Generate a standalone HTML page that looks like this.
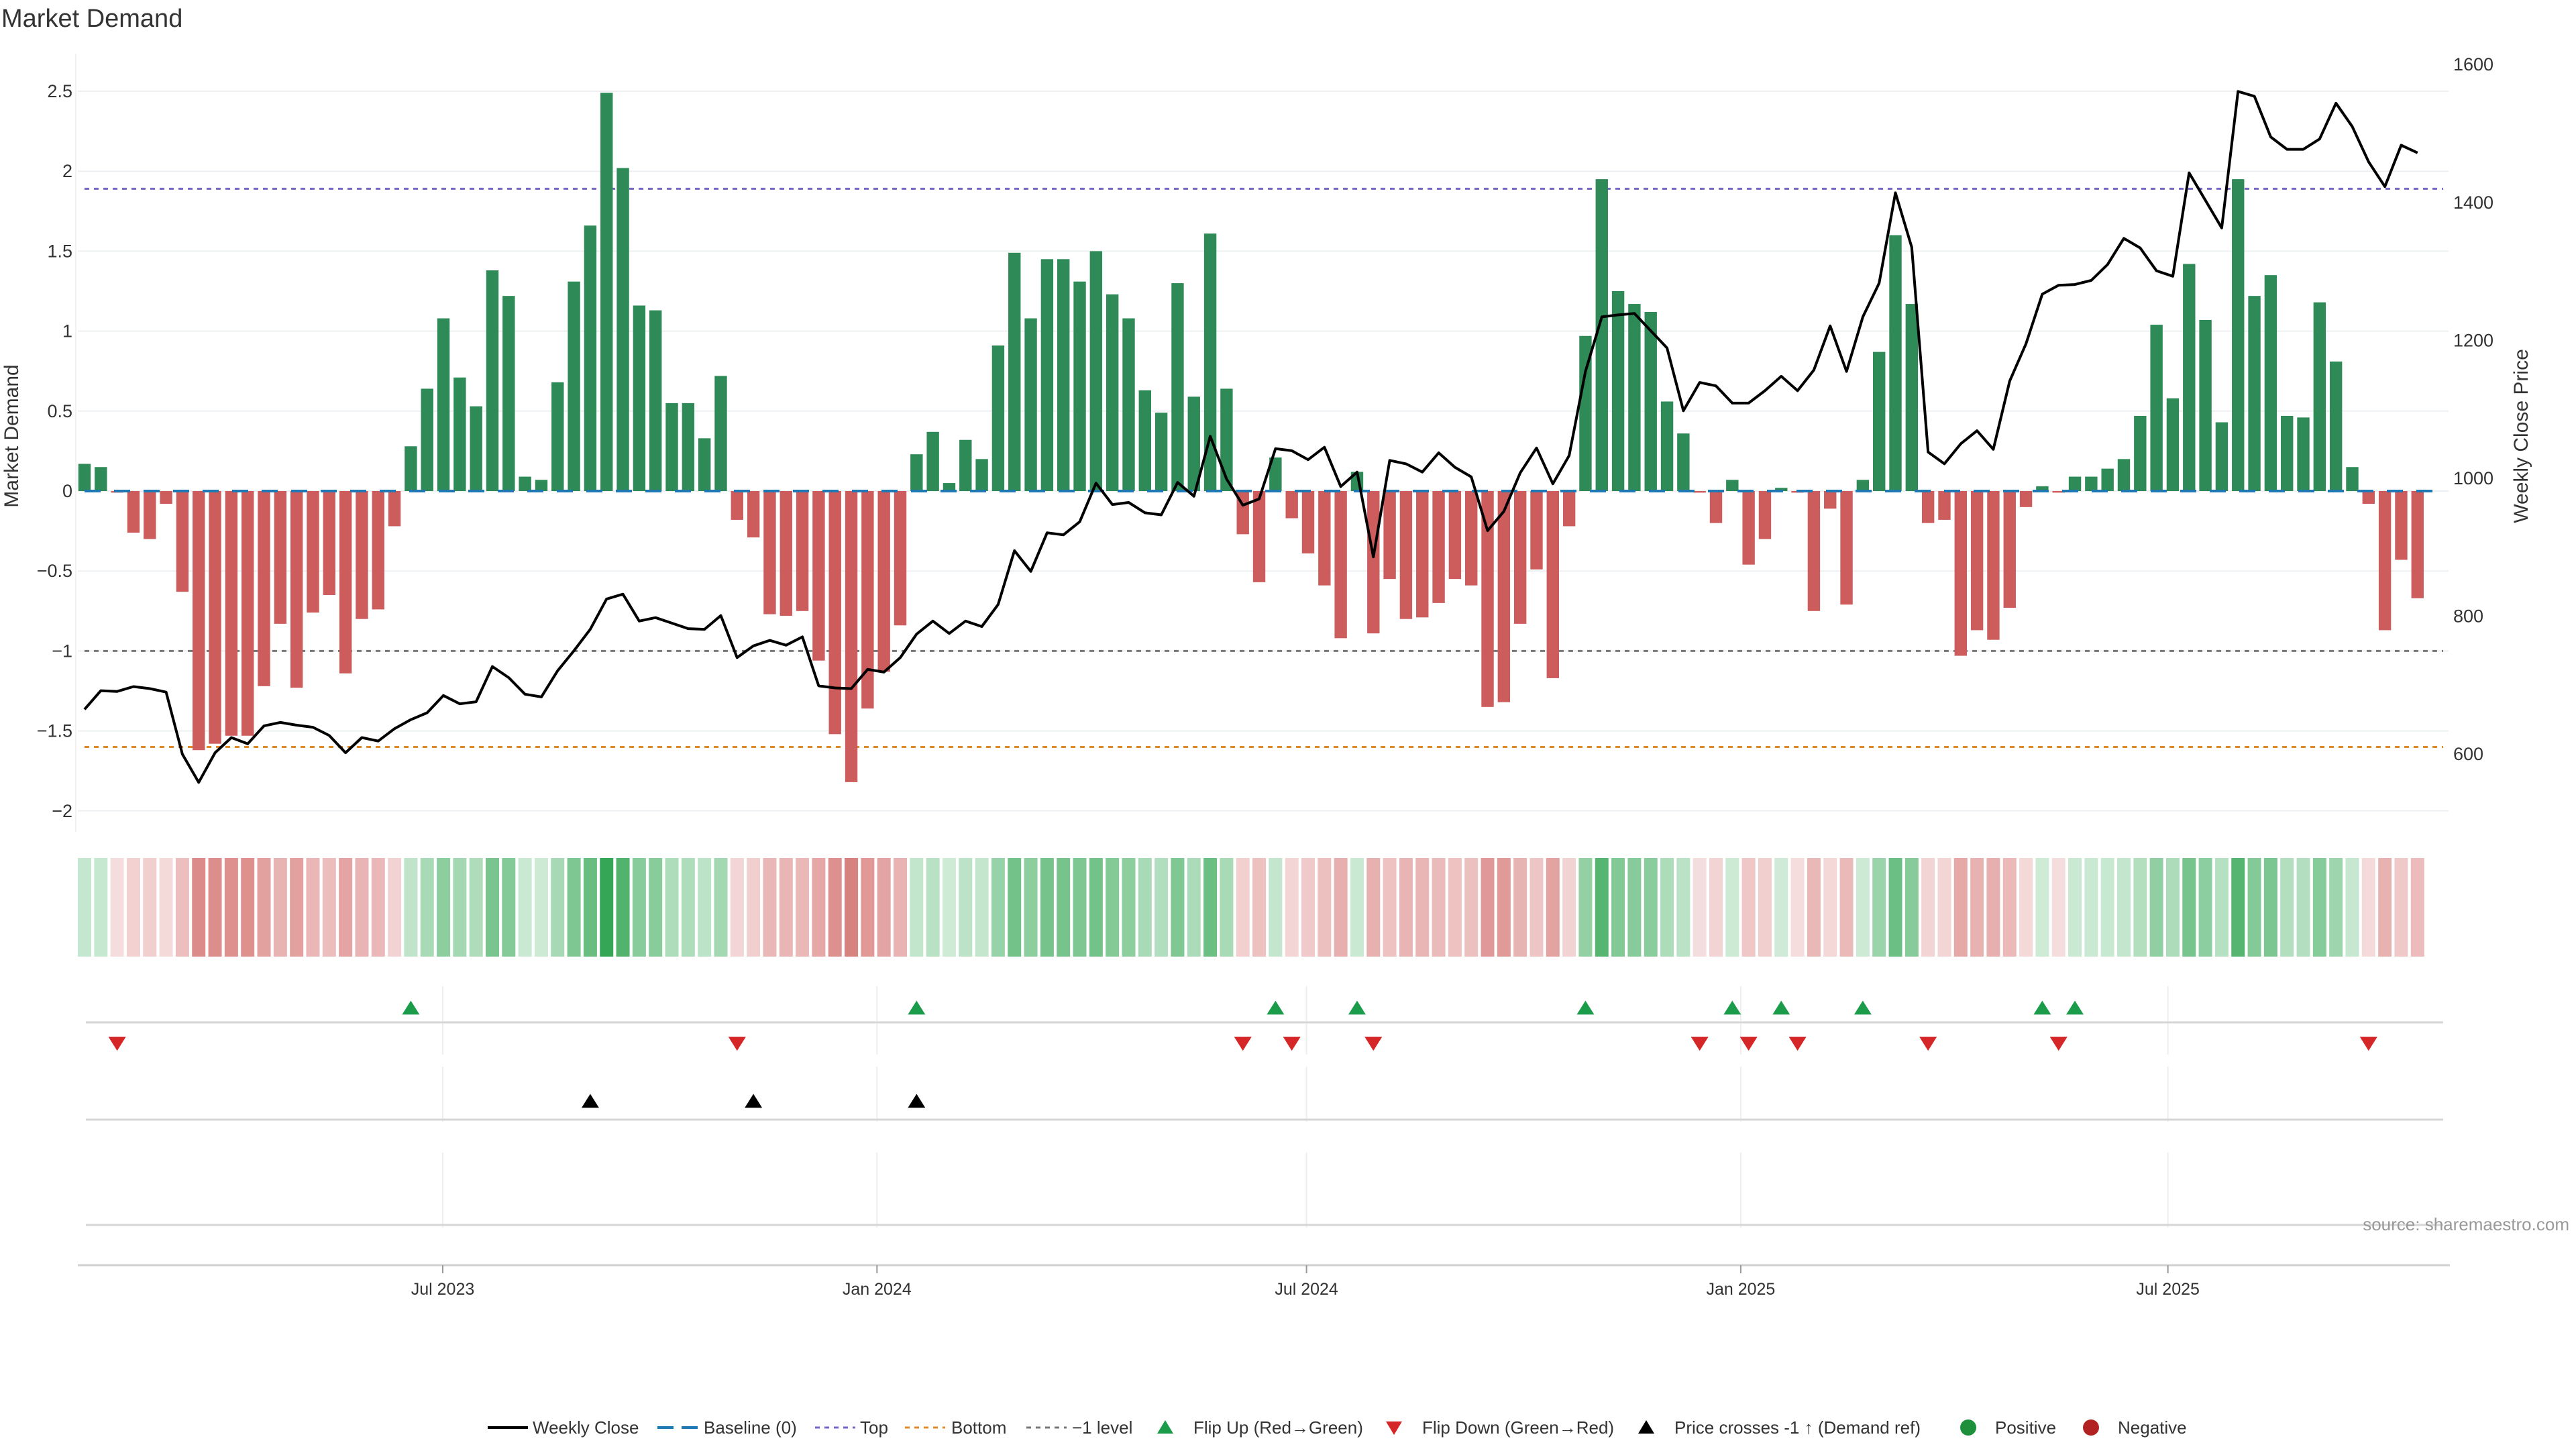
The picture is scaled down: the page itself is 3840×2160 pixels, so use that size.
<!DOCTYPE html>
<html><head><meta charset="utf-8"><style>
html,body{margin:0;padding:0;background:#fff;}
svg{display:block;font-family:"Liberation Sans","DejaVu Sans",sans-serif;}
</style></head><body>
<svg id="chart" width="3840" height="2160" viewBox="0 0 3840 2160" xmlns="http://www.w3.org/2000/svg">
<text x="2" y="40" font-size="38" fill="#333">Market Demand</text>
<g id="grid"></g><g id="refs"></g><g id="bars"></g><g id="line"></g><g id="heat"></g><g id="marks"></g><g id="axes"></g><g id="legend"></g>
<text x="3830" y="1834" font-size="26" fill="#999" text-anchor="end">source: sharemaestro.com</text>
</svg>
<script>
const demand = [0.17,0.15,-0.01,-0.26,-0.30,-0.08,-0.63,-1.62,-1.58,-1.53,-1.53,-1.22,-0.83,-1.23,-0.76,-0.65,-1.14,-0.80,-0.74,-0.22,0.28,0.64,1.08,0.71,0.53,1.38,1.22,0.09,0.07,0.68,1.31,1.66,2.49,2.02,1.16,1.13,
0.55,0.55,0.33,0.72,-0.18,-0.29,-0.77,-0.78,-0.75,-1.06,-1.52,-1.82,-1.36,-1.13,-0.84,0.23,0.37,0.05,0.32,0.20,0.91,1.49,1.08,1.45,1.45,1.31,1.50,1.23,1.08,0.63,0.49,1.30,0.59,1.61,0.64,-0.27,-0.57,
0.21,-0.17,-0.39,-0.59,-0.92,0.12,-0.89,-0.55,-0.80,-0.79,-0.70,-0.55,-0.59,-1.35,-1.32,-0.83,-0.49,-1.17,-0.22,0.97,1.95,1.25,1.17,1.12,0.56,0.36,-0.01,-0.20,0.07,-0.46,-0.30,0.02,-0.01,-0.75,-0.11,-0.71,
0.07,0.87,1.60,1.17,-0.20,-0.18,-1.03,-0.87,-0.93,-0.73,-0.10,0.03,-0.01,0.09,0.09,0.14,0.20,0.47,1.04,0.58,1.42,1.07,0.43,1.95,1.22,1.35,0.47,0.46,1.18,0.81,0.15,-0.08,-0.87,-0.43,-0.67];
const price = [665,692,691,698,695,690,600,559,602,624,615,641,646,642,639,627,602,624,619,637,650,660,685,673,676,727,711,687,683,721,750,781,825,832,793,798,
790,782,781,801,740,757,765,758,770,699,696,695,723,719,740,774,793,775,793,785,817,895,865,921,918,937,993,962,965,950,947,994,974,1061,999,961,970,
1043,1040,1027,1045,988,1009,886,1026,1021,1009,1037,1016,1002,924,952,1008,1044,992,1033,1155,1234,1237,1239,1214,1189,1098,1139,1134,1109,1109,1127,1148,1127,1157,1221,1155,
1234,1283,1414,1335,1038,1021,1050,1069,1042,1141,1195,1267,1280,1281,1287,1310,1348,1334,1301,1293,1443,1403,1363,1561,1554,1495,1477,1477,1492,1544,1510,1459,1423,1483,1472];
const crossIdx = [31,41,51];
const leftTicks = [2.5,2,1.5,1,0.5,0,-0.5,-1,-1.5,-2];
const leftTickLabels = ["2.5","2","1.5","1","0.5","0","−0.5","−1","−1.5","−2"];
const rightTicks = [1600,1400,1200,1000,800,600];
const dateTicks = ["2023-07-01","2024-01-01","2024-07-01","2025-01-01","2025-07-01"];
const dateTickLabels = ["Jul 2023","Jan 2024","Jul 2024","Jan 2025","Jul 2025"];
const topLevel = 1.89, bottomLevel = -1.6, minusOneLevel = -1;

const NS="http://www.w3.org/2000/svg";
function mk(tag, attrs, parent){const e=document.createElementNS(NS,tag);for(const k in attrs)e.setAttribute(k,attrs[k]);parent.appendChild(e);return e;}
const X0=126, STEP=24.32;
const xI = i => X0 + i*STEP;
const yL = v => 732 - v*238.4;
const yR = p => 713 - (p-1000)*1.028;
const xD = s => 660 + (Date.parse(s)-Date.parse("2023-07-01"))/864e5*3.518;
const G = id => document.getElementById(id);

leftTicks.forEach((v,k)=>{
  const l=mk('line',{x1:116,x2:3650,y1:yL(v),y2:yL(v),stroke:'#edf0f2','stroke-width':2},G('grid'));
  
  
  const t=mk('text',{x:108,y:yL(v)+9,'font-size':27,fill:'#333','text-anchor':'end'},G('axes'));
  t.textContent=leftTickLabels[k];
  
  
});
rightTicks.forEach(p=>{
  const t=mk('text',{x:3657,y:yR(p)+9,'font-size':27,fill:'#333'},G('axes'));
  t.textContent=String(p);
  
  
});
{
const a=mk('line',{x1:113,x2:113,y1:80,y2:1240,stroke:'#f2f2f2','stroke-width':2},G('grid'));


const yt=mk('text',{transform:'translate(27,650) rotate(-90)','font-size':30,fill:'#333','text-anchor':'middle'},G('axes'));
yt.textContent='Market Demand';


const yt2=mk('text',{transform:'translate(3768,650) rotate(-90)','font-size':30,fill:'#333','text-anchor':'middle'},G('axes'));
yt2.textContent='Weekly Close Price';


}
demand.forEach((v,i)=>{
  const y0=yL(0), y1=yL(v);
  const r=mk('rect',{x:xI(i)-9.2,width:18.4,y:Math.min(y0,y1),height:Math.max(1,Math.abs(y1-y0)),fill:v>=0?'#2e8b57':'#cd5c5c'},G('bars'));
  
  
});
function ref(v,color,dash,name,w){
  const l=mk('line',{x1:126,x2:3642,y1:yL(v),y2:yL(v),stroke:color,'stroke-width':w||3,'stroke-dasharray':dash},G('refs'));
  
  
}
ref(topLevel,'#7566c9','7 7','top-line');
ref(minusOneLevel,'#777','7 7','minus-one-line');
ref(bottomLevel,'#e08a2a','7 7','bottom-line');
{
const b=mk('line',{x1:126,x2:3642,y1:yL(0),y2:yL(0),stroke:'#1f77b4','stroke-width':4,'stroke-dasharray':'24 20'},G('line'));


}
{
const d=price.map((p,i)=>(i?'L':'M')+xI(i).toFixed(1)+' '+yR(p).toFixed(1)).join(' ');
const pl=mk('path',{d:d,fill:'none',stroke:'#000','stroke-width':4,'stroke-linejoin':'round'},G('line'));


}
function mix(a,b,t){return 'rgb('+a.map((c,k)=>Math.round(c+(b[k]-c)*t)).join(',')+')';}
demand.forEach((v,i)=>{
  const t=Math.min(1,Math.abs(v)/2.5);
  const c=v>=0?mix([208,236,216],[52,166,84],t):mix([246,222,222],[205,95,92],t);
  const r=mk('rect',{x:xI(i)-10,width:20,y:1279,height:147,fill:c},G('heat'));
  
  
});
[[1470,1572,1524],[1590,1672,1669],[1718,1830,1826]].forEach(([a,b,h])=>{
  dateTicks.forEach(s=>{
    const l=mk('line',{x1:xD(s),x2:xD(s),y1:a,y2:b,stroke:'#eeeeee','stroke-width':2},G('grid'));
    
    
  });
  const hl=mk('line',{x1:128,x2:3642,y1:h,y2:h,stroke:'#d6d6d6','stroke-width':3},G('grid'));
  
  
});
function tri(cx,cy,up,color,name){
  const s=13;
  const pts=up?`${cx-s},${cy+s*0.8} ${cx+s},${cy+s*0.8} ${cx},${cy-s*0.8}`:`${cx-s},${cy-s*0.8} ${cx+s},${cy-s*0.8} ${cx},${cy+s*0.8}`;
  const p=mk('polygon',{points:pts,fill:color},G('marks'));
  
  
}
for(let i=1;i<demand.length;i++){
  if(demand[i]>=0 && demand[i-1]<0) tri(xI(i),1502,true,'#1a9c4a','flip-up-marker');
  if(demand[i]<0 && demand[i-1]>=0) tri(xI(i),1556,false,'#d62728','flip-down-marker');
}
crossIdx.forEach(i=>tri(xI(i),1641,true,'#000','price-cross-marker'));
{
const ax=mk('line',{x1:116,x2:3652,y1:1886,y2:1886,stroke:'#d0d0d0','stroke-width':3},G('axes'));


dateTicks.forEach((s,k)=>{
  const tk=mk('line',{x1:xD(s),x2:xD(s),y1:1886,y2:1898,stroke:'#999','stroke-width':2},G('axes'));
  
  
  const t=mk('text',{x:xD(s),y:1930,'font-size':25,fill:'#333','text-anchor':'middle'},G('axes'));
  t.textContent=dateTickLabels[k];
  
  
});
}
{
const L=G('legend'), y=2128;
function ltext(x,s){const t=mk('text',{x:x,y:y+9,'font-size':26,fill:'#333'},L);t.textContent=s;}
function lline(x,color,dash,w){const l=mk('line',{x1:x,x2:x+60,y1:y,y2:y,stroke:color,'stroke-width':w,'stroke-dasharray':dash},L);}
lline(727,'#000','none',4); ltext(794,'Weekly Close');
lline(980,'#1f77b4','24 12',4); ltext(1049,'Baseline (0)');
lline(1215,'#7566c9','7 7',3); ltext(1282,'Top');
lline(1349,'#e08a2a','7 7',3); ltext(1418,'Bottom');
lline(1530,'#777','7 7',3); ltext(1598,'−1 level');
const lt=(cx,up,c)=>{const s=12;const pts=up?`${cx-s},${y+9} ${cx+s},${y+9} ${cx},${y-11}`:`${cx-s},${y-9} ${cx+s},${y-9} ${cx},${y+11}`;const p=mk('polygon',{points:pts,fill:c},L);};
lt(1737,true,'#1a9c4a'); ltext(1779,'Flip Up (Red→Green)');
lt(2078,false,'#d62728'); ltext(2120,'Flip Down (Green→Red)');
lt(2454,true,'#000'); ltext(2496,'Price crosses -1 ↑ (Demand ref)');
const c1=mk('circle',{cx:2934,cy:y,r:12,fill:'#1e8f3a'},L);
ltext(2974,'Positive');
const c2=mk('circle',{cx:3117,cy:y,r:12,fill:'#b22222'},L);
ltext(3157,'Negative');
}
</script>
</body></html>
